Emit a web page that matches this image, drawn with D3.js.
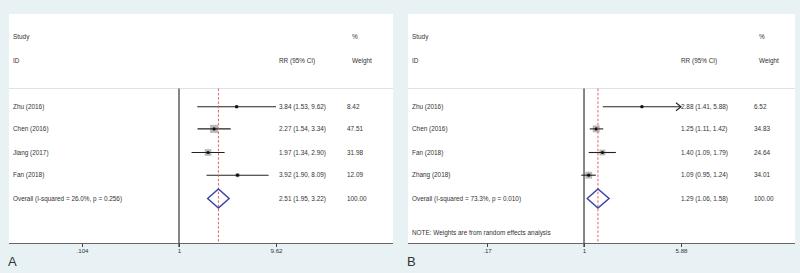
<!DOCTYPE html>
<html><head><meta charset="utf-8">
<script src="https://cdn.jsdelivr.net/npm/d3@7"></script>
<style>
html,body{margin:0;padding:0;background:#e8f2f5;}
svg{display:block;}
text{font-family:"Liberation Sans",Arial,sans-serif;fill:#333;}
</style></head><body>
<svg id="c" width="800" height="273"></svg>
<script>
// Panel A data
const studiesA = ["Zhu (2016)", "Chen (2016)", "Jiang (2017)", "Fan (2018)"];
const rrA = [3.84, 2.27, 1.97, 3.92];
const lowA = [1.53, 1.54, 1.34, 1.90];
const highA = [9.62, 3.34, 2.90, 8.09];
const weightA = [8.42, 47.51, 31.98, 12.09];
const overallA = [2.51, 1.95, 3.22];
const overallLabelA = "Overall  (I-squared = 26.0%, p = 0.256)";
const ticksA = [0.104, 1, 9.62];
const tickLabelsA = [".104", "1", "9.62"];

// Panel B data
const studiesB = ["Zhu (2016)", "Chen (2016)", "Fan (2018)", "Zhang (2018)"];
const rrB = [2.88, 1.25, 1.40, 1.09];
const lowB = [1.41, 1.11, 1.09, 0.95];
const highB = [5.88, 1.42, 1.79, 1.24];
const weightB = [6.52, 34.83, 24.64, 34.01];
const overallB = [1.29, 1.06, 1.58];
const overallLabelB = "Overall  (I-squared = 73.3%, p = 0.010)";
const ticksB = [0.17, 1, 5.88];
const tickLabelsB = [".17", "1", "5.88"];

const svg = d3.select("#c");
const f2 = d3.format(".2f");

function panel(cfg) {
  const g = svg.append("g");
  const {x0, x1, top, axisY} = cfg;
  g.append("rect").attr("x", x0).attr("y", top).attr("width", x1 - x0).attr("height", axisY - top).attr("fill", "#fff");
  const x = d3.scaleLog().domain([cfg.ticks[0], cfg.ticks[2]]).range([cfg.r0, cfg.r1]);
  const fs = 6.4;
  // headers
  g.append("text").attr("x", x0 + 4).attr("y", 39).attr("font-size", fs).text("Study");
  g.append("text").attr("x", x0 + 4).attr("y", 63).attr("font-size", fs).text("ID");
  g.append("text").attr("x", cfg.rrX).attr("y", 63).attr("font-size", fs).text("RR (95% CI)");
  g.append("text").attr("x", cfg.wX + 5).attr("y", 39).attr("font-size", fs).text("%");
  g.append("text").attr("x", cfg.wX + 5).attr("y", 63).attr("font-size", fs).text("Weight");
  g.append("line").attr("x1", x0).attr("x2", x1).attr("y1", 88.5).attr("y2", 88.5).attr("stroke", "#e2e2e2").attr("stroke-width", 1);

  const rows = [106.7, 128.9, 152.5, 175.2];
  const yOver = 198.5;
  const sideK = 1.17;
  cfg.studies.forEach((s, i) => {
    const y = rows[i];
    g.append("text").attr("x", x0 + 4).attr("y", y + 2.2).attr("font-size", fs).text(s);
    g.append("text").attr("x", cfg.rrX).attr("y", y + 2.2).attr("font-size", fs)
      .text(`${f2(cfg.rr[i])} (${f2(cfg.low[i])}, ${f2(cfg.high[i])})`);
    g.append("text").attr("x", cfg.wX).attr("y", y + 2.2).attr("font-size", fs).text(f2(cfg.w[i]));
    const side = sideK * Math.sqrt(cfg.w[i]);
    g.append("rect").attr("x", x(cfg.rr[i]) - side / 2).attr("y", y - side / 2)
      .attr("width", side).attr("height", side).attr("fill", "#b8b8b8");
    const hi = Math.min(cfg.high[i], cfg.ticks[2]);
    g.append("line").attr("x1", x(cfg.low[i])).attr("x2", x(hi)).attr("y1", y).attr("y2", y)
      .attr("stroke", "#222").attr("stroke-width", 1.1);
    if (cfg.high[i] >= cfg.ticks[2] && cfg.arrow) {
      const ax = x(hi);
      g.append("path").attr("d", `M${ax - 5},${y - 4}L${ax},${y}L${ax - 5},${y + 4}`)
        .attr("fill", "none").attr("stroke", "#222").attr("stroke-width", 1.1);
    }
    g.append("circle").attr("cx", x(cfg.rr[i])).attr("cy", y).attr("r", 1.6).attr("fill", "#111");
  });
  // null line
  g.append("line").attr("x1", x(1)).attr("x2", x(1)).attr("y1", 88.5).attr("y2", axisY + 3.5)
    .attr("stroke", "#222").attr("stroke-width", 1.1);
  // overall dashed line
  const o = cfg.overall;
  g.append("line").attr("x1", x(o[0])).attr("x2", x(o[0])).attr("y1", 88.5).attr("y2", axisY)
    .attr("stroke", "#d9534f").attr("stroke-width", 0.9).attr("stroke-dasharray", "2.5,1.8");
  // overall row
  g.append("text").attr("x", x0 + 4).attr("y", yOver + 2.2).attr("font-size", fs).text(cfg.overallLabel);
  g.append("text").attr("x", cfg.rrX).attr("y", yOver + 2.2).attr("font-size", fs)
    .text(`${f2(o[0])} (${f2(o[1])}, ${f2(o[2])})`);
  g.append("text").attr("x", cfg.wX).attr("y", yOver + 2.2).attr("font-size", fs).text("100.00");
  const h = 9.5;
  g.append("path").attr("d", `M${x(o[1])},${yOver}L${x(o[0])},${yOver - h}L${x(o[2])},${yOver}L${x(o[0])},${yOver + h}Z`)
    .attr("fill", "none").attr("stroke", "#3a47a5").attr("stroke-width", 1.5);
  if (cfg.note) {
    g.append("text").attr("x", x0 + 4).attr("y", 235).attr("font-size", fs).text(cfg.note);
  }
  // axis
  g.append("line").attr("x1", x0).attr("x2", x1).attr("y1", axisY).attr("y2", axisY)
    .attr("stroke", "#666").attr("stroke-width", 1.1);
  const axis = d3.axisBottom(x).tickValues(cfg.ticks).tickSize(3.5).tickPadding(2)
    .tickFormat((d, i) => cfg.tickLabels[i]);
  const ag = g.append("g").attr("transform", `translate(0,${axisY})`).call(axis);
  ag.select(".domain").remove();
  ag.selectAll(".tick line").attr("stroke", "#444");
  ag.selectAll(".tick text").attr("font-size", 6.2).attr("fill", "#333").attr("font-family", "Liberation Sans, Arial, sans-serif");
  g.append("text").attr("x", cfg.letterX).attr("y", 266).attr("font-size", 13).attr("fill", "#222").text(cfg.letter);
}

panel({x0: 9, x1: 393, top: 14, axisY: 243.5, r0: 82, r1: 276, ticks: ticksA, tickLabels: tickLabelsA,
  studies: studiesA, rr: rrA, low: lowA, high: highA, w: weightA, overall: overallA, overallLabel: overallLabelA,
  rrX: 279, wX: 347, letter: "A", letterX: 8, arrow: false});
panel({x0: 408, x1: 795, top: 14, axisY: 243.5, r0: 487, r1: 681, ticks: ticksB, tickLabels: tickLabelsB,
  studies: studiesB, rr: rrB, low: lowB, high: highB, w: weightB, overall: overallB, overallLabel: overallLabelB,
  rrX: 681, wX: 754, letter: "B", letterX: 407, arrow: true, note: "NOTE: Weights are from random effects analysis"});
</script>
</body></html>
